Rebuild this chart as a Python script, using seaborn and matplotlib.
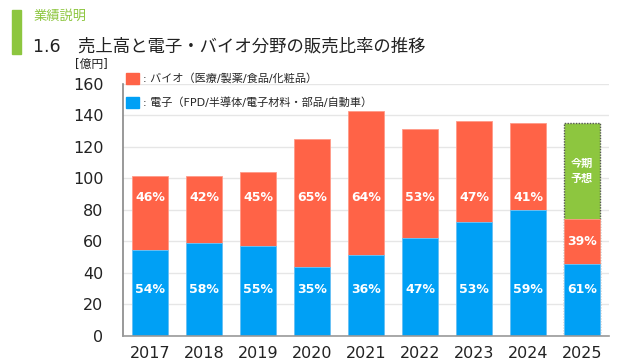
import matplotlib
matplotlib.use("Agg")
import matplotlib.pyplot as plt
import matplotlib.patches as mpatches
import pandas as pd
import seaborn as sns

# Data (億円)
years = ["2017", "2018", "2019", "2020", "2021", "2022", "2023", "2024", "2025"]
totals = [101.5, 101.5, 104.0, 125.0, 143.0, 131.7, 136.6, 135.2, 74.4]
electronics = [54.8, 58.9, 57.2, 43.8, 51.5, 61.9, 72.4, 79.8, 45.4]
bio_pct = ["46%", "42%", "45%", "65%", "64%", "53%", "47%", "41%", "39%"]
elec_pct = ["54%", "58%", "55%", "35%", "36%", "47%", "53%", "59%", "61%"]
forecast_total = [None, None, None, None, None, None, None, None, 135.0]

c_bio = "#FF6347"
c_elec = "#00A0F5"
c_fc = "#8DC63F"

df = pd.DataFrame({"year": years, "total": totals, "elec": electronics,
                   "forecast": forecast_total})

sns.set_theme(style="white")
plt.rcParams["font.family"] = ["DejaVu Sans", "Noto Sans CJK JP"]

fig = plt.figure(figsize=(6.32, 3.6), dpi=100)
ax = fig.add_axes([0.1946, 0.0667, 0.769, 0.7])

# forecast (green, dotted edge) drawn first, then bio total, then electronics
sns.barplot(data=df, x="year", y="forecast", order=years, color=c_fc,
            saturation=1, width=0.68, edgecolor="#555555", linewidth=1,
            linestyle=(0, (1, 1)), ax=ax)
sns.barplot(data=df, x="year", y="total", order=years, color=c_bio,
            saturation=1, width=0.68, edgecolor="#FF9A88", linewidth=0.6, ax=ax)
sns.barplot(data=df, x="year", y="elec", order=years, color=c_elec,
            saturation=1, width=0.68, edgecolor="#66C8FF", linewidth=0.6, ax=ax)

for i, y in enumerate(years):
    ax.text(i, 29.5, elec_pct[i], ha="center", va="center", color="white",
            fontsize=9, fontweight="bold")
    if forecast_total[i] is None:
        ry = 88
    else:
        ry = (electronics[i] + totals[i]) / 2
        ax.text(i, (totals[i] + forecast_total[i]) / 2, "今期\n予想",
                ha="center", va="center", color="white", fontsize=8,
                fontweight="bold", linespacing=1.2,
                family=["Noto Sans CJK JP"])
    ax.text(i, ry, bio_pct[i], ha="center", va="center", color="white",
            fontsize=9, fontweight="bold")

ax.set_xlim(-0.5, 8.5)
ax.set_ylim(0, 160)
ax.set_yticks(range(0, 161, 20))
ax.set_xlabel("")
ax.set_ylabel("")
ax.yaxis.grid(True, color="#E6E6E6", linewidth=1)
ax.set_axisbelow(True)
ax.tick_params(axis="both", length=0, labelsize=11.5, labelcolor="#222222")
ax.tick_params(axis="y", pad=14)
ax.tick_params(axis="x", pad=7)
for side in ["top", "right"]:
    ax.spines[side].set_visible(False)
ax.spines["left"].set_color("#888888")
ax.spines["bottom"].set_color("#999999")
ax.spines["left"].set_linewidth(1.2)
ax.spines["bottom"].set_linewidth(1.2)

handles = [mpatches.Patch(color=c_bio), mpatches.Patch(color=c_elec)]
labels = [": バイオ（医療/製薬/食品/化粧品）", ": 電子（FPD/半導体/電子材料・部品/自動車）"]
ax.legend(handles, labels, loc="upper left", bbox_to_anchor=(0.2, 0.797),
          bbox_transform=fig.transFigure, frameon=False, fontsize=8,
          handlelength=1.1, handleheight=1.1, handletextpad=0.35,
          labelspacing=1.15, borderaxespad=0, borderpad=0)

# header
fig.patches.append(mpatches.Rectangle((0.019, 0.85), 0.015, 0.122,
                                      transform=fig.transFigure,
                                      color="#8DC63F"))
fig.text(0.053, 0.955, "業績説明", color="#8DC63F", fontsize=9.5,
         va="center", family=["Noto Sans CJK JP"])
fig.text(0.053, 0.87, "1.6　売上高と電子・バイオ分野の販売比率の推移",
         color="#222222", fontsize=12.5, va="center")
fig.text(0.144, 0.822, "[億円]", color="#222222", fontsize=8.5, ha="center",
         va="center")

fig.savefig("out.png", dpi=100)
